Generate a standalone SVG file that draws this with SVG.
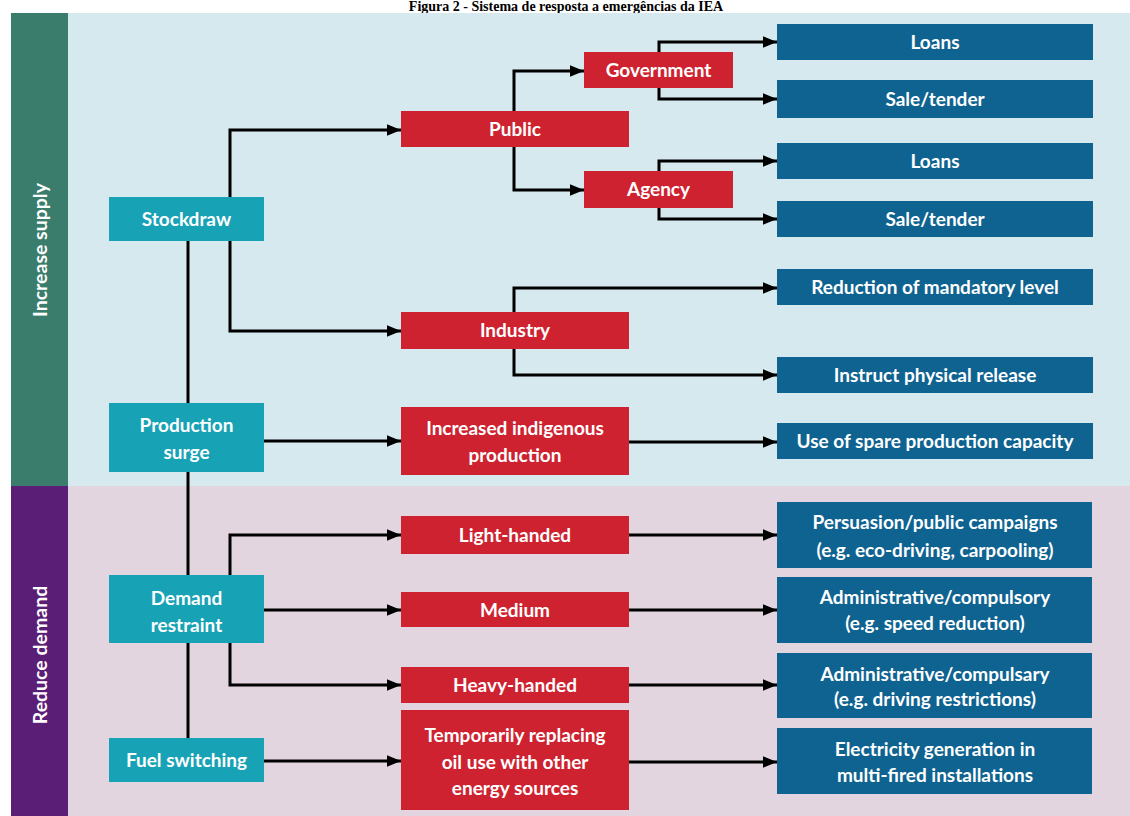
<svg xmlns="http://www.w3.org/2000/svg" width="1130" height="816" viewBox="0 0 1130 816">
<style>
.teal{fill:#17a2b6}
.red{fill:#cf2230}
.blue{fill:#0f6391}
.lbl{font-family:Lato,"Liberation Sans",sans-serif;font-weight:bold;font-size:19px;fill:#ffffff;text-anchor:middle}
.side{font-family:Lato,"Liberation Sans",sans-serif;font-weight:bold;font-size:19.5px;fill:#ffffff;text-anchor:middle}
.conn path{fill:none;stroke:#000;stroke-width:3;marker-end:url(#ah)}
.conn line{stroke:#000;stroke-width:3}
.title{font-family:"Liberation Serif","Times New Roman",serif;font-weight:bold;font-size:14px;fill:#000;text-anchor:middle}
</style>
<defs>
<marker id="ah" markerUnits="userSpaceOnUse" markerWidth="14" markerHeight="14" refX="12" refY="6" orient="auto" viewBox="0 0 12 12">
<path d="M0,1 L12,6 L0,11 Z" fill="#000"/>
</marker>
</defs>
<rect x="0" y="0" width="1130" height="816" fill="#ffffff"/>
<text class="title" x="566" y="11">Figura 2 - Sistema de resposta a emergências da IEA</text>
<g id="bands">
<rect x="68" y="13" width="1062" height="473" fill="#d5e9ef"/>
<rect x="68" y="486" width="1062" height="330" fill="#e2d5df"/>
<rect x="11" y="13" width="57" height="473" fill="#3b7d6d"/>
<rect x="11" y="486" width="57" height="330" fill="#5b1e77"/>
<text class="side" transform="translate(47,250) rotate(-90)">Increase supply</text>
<text class="side" transform="translate(47,655) rotate(-90)">Reduce demand</text>
</g>
<g class="conn" id="connectors">
<line x1="188" y1="241" x2="188" y2="403"/>
<line x1="188" y1="472" x2="188" y2="575"/>
<line x1="188" y1="643" x2="188" y2="738"/>
<path d="M230,197 V130 H401"/>
<path d="M230,241 V331 H401"/>
<path d="M264,441 H401"/>
<path d="M514,111 V71 H584"/>
<path d="M514,147 V190 H584"/>
<path d="M659,52 V42 H777"/>
<path d="M659,88 V99 H777"/>
<path d="M659,171 V161 H777"/>
<path d="M659,208 V219 H777"/>
<path d="M514,312 V288 H777"/>
<path d="M514,349 V375 H777"/>
<path d="M629,442 H777"/>
<path d="M230,575 V535 H401"/>
<path d="M264,610 H401"/>
<path d="M230,643 V685 H401"/>
<path d="M264,761 H401"/>
<path d="M629,535 H777"/>
<path d="M629,610 H777"/>
<path d="M629,685 H777"/>
<path d="M629,762 H777"/>
</g>
<g id="stockdraw"><rect class="teal" x="109" y="197" width="155" height="44"/><text class="lbl" x="186.5" y="226">Stockdraw</text></g>
<g id="production-surge"><rect class="teal" x="109" y="403" width="155" height="69"/><text class="lbl" x="186.5" y="432">Production</text><text class="lbl" x="186.5" y="459">surge</text></g>
<g id="demand-restraint"><rect class="teal" x="109" y="575" width="155" height="68"/><text class="lbl" x="186.5" y="605">Demand</text><text class="lbl" x="186.5" y="632">restraint</text></g>
<g id="fuel-switching"><rect class="teal" x="109" y="738" width="155" height="44"/><text class="lbl" x="186.5" y="767">Fuel switching</text></g>
<g id="public"><rect class="red" x="401" y="111" width="228" height="36"/><text class="lbl" x="515" y="136">Public</text></g>
<g id="government"><rect class="red" x="584" y="52" width="149" height="36"/><text class="lbl" x="658.5" y="77">Government</text></g>
<g id="agency"><rect class="red" x="584" y="171" width="149" height="37"/><text class="lbl" x="658.5" y="196">Agency</text></g>
<g id="industry"><rect class="red" x="401" y="312" width="228" height="37"/><text class="lbl" x="515" y="337">Industry</text></g>
<g id="increased-indigenous"><rect class="red" x="401" y="407" width="228" height="68"/><text class="lbl" x="515" y="435">Increased indigenous</text><text class="lbl" x="515" y="462">production</text></g>
<g id="light-handed"><rect class="red" x="401" y="516" width="228" height="38"/><text class="lbl" x="515" y="542">Light-handed</text></g>
<g id="medium"><rect class="red" x="401" y="592" width="228" height="35"/><text class="lbl" x="515" y="617">Medium</text></g>
<g id="heavy-handed"><rect class="red" x="401" y="667" width="228" height="36"/><text class="lbl" x="515" y="692">Heavy-handed</text></g>
<g id="temporarily"><rect class="red" x="401" y="710" width="228" height="100"/><text class="lbl" x="515" y="742">Temporarily replacing</text><text class="lbl" x="515" y="769">oil use with other</text><text class="lbl" x="515" y="795">energy sources</text></g>
<g id="loans-1"><rect class="blue" x="777" y="24" width="316" height="36"/><text class="lbl" x="935" y="49">Loans</text></g>
<g id="sale-1"><rect class="blue" x="777" y="80" width="316" height="38"/><text class="lbl" x="935" y="106">Sale/tender</text></g>
<g id="loans-2"><rect class="blue" x="777" y="143" width="316" height="36"/><text class="lbl" x="935" y="168">Loans</text></g>
<g id="sale-2"><rect class="blue" x="777" y="201" width="316" height="36"/><text class="lbl" x="935" y="226">Sale/tender</text></g>
<g id="reduction"><rect class="blue" x="777" y="269" width="316" height="36"/><text class="lbl" x="935" y="294">Reduction of mandatory level</text></g>
<g id="instruct"><rect class="blue" x="777" y="357" width="316" height="36"/><text class="lbl" x="935" y="382">Instruct physical release</text></g>
<g id="spare"><rect class="blue" x="777" y="423" width="316" height="36"/><text class="lbl" x="935" y="448">Use of spare production capacity</text></g>
<g id="persuasion"><rect class="blue" x="777" y="502" width="315" height="66"/><text class="lbl" x="935" y="529">Persuasion/public campaigns</text><text class="lbl" x="935" y="557">(e.g. eco-driving, carpooling)</text></g>
<g id="admin-1"><rect class="blue" x="777" y="577" width="315" height="66"/><text class="lbl" x="935" y="604">Administrative/compulsory</text><text class="lbl" x="935" y="630">(e.g. speed reduction)</text></g>
<g id="admin-2"><rect class="blue" x="777" y="653" width="315" height="65"/><text class="lbl" x="935" y="681">Administrative/compulsary</text><text class="lbl" x="935" y="706">(e.g. driving restrictions)</text></g>
<g id="electricity"><rect class="blue" x="777" y="728" width="315" height="66"/><text class="lbl" x="935" y="756">Electricity generation in</text><text class="lbl" x="935" y="782">multi-fired installations</text></g>
</svg>
